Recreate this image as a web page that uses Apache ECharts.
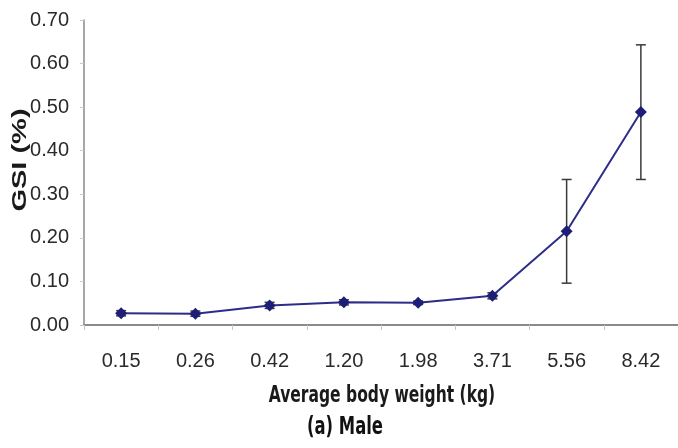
<!DOCTYPE html>
<html>
<head>
<meta charset="utf-8">
<script src="https://cdn.jsdelivr.net/npm/echarts@6/dist/echarts.min.js"></script>
<style>
  html, body { margin: 0; padding: 0; background: #fff; }
  #chart { width: 678px; height: 448px; }
</style>
</head>
<body>
<div id="chart"></div>
<script>
// Average body weight classes (kg)
const weights = ['0.15', '0.26', '0.42', '1.20', '1.98', '3.71', '5.56', '8.42'];
// Mean gonadosomatic index (%) per class
const gsiMean = [0.027, 0.026, 0.045, 0.052, 0.051, 0.067, 0.215, 0.489];
// Lower / upper ends of the error bars
const gsiLow  = [0.021, 0.020, 0.038, 0.046, 0.047, 0.060, 0.096, 0.334];
const gsiHigh = [0.033, 0.032, 0.052, 0.058, 0.055, 0.074, 0.334, 0.643];
// Y-axis ticks
const yTicks = [0, 0.1, 0.2, 0.3, 0.4, 0.5, 0.6, 0.7];

const sans = '"Liberation Sans", Arial, sans-serif';
const condensed = '"DejaVu Sans Condensed", "DejaVu Sans", sans-serif';

const errorData = weights.map((w, i) => [i, gsiLow[i], gsiHigh[i]]);

const chart = echarts.init(document.getElementById('chart'), null, { renderer: 'canvas' });

chart.setOption({
  animation: false,
  backgroundColor: '#ffffff',
  grid: { left: 84, right: 0, top: 20, bottom: 123, containLabel: false },
  xAxis: {
    type: 'category',
    data: weights,
    boundaryGap: true,
    axisLine: { lineStyle: { color: '#8a8a8a', width: 2 } },
    axisTick: { show: true, alignWithLabel: false, length: 5, lineStyle: { color: '#c8c8c8' } },
    axisLabel: { fontFamily: sans, fontSize: 20, color: '#2a2a2a', margin: 26 },
    splitLine: { show: false }
  },
  yAxis: {
    type: 'value',
    min: yTicks[0],
    max: yTicks[yTicks.length - 1],
    interval: 0.1,
    axisLine: { show: true, lineStyle: { color: '#8a8a8a', width: 1.5 } },
    axisTick: { show: true, length: 4, lineStyle: { color: '#c8c8c8' } },
    axisLabel: {
      fontFamily: sans, fontSize: 20, color: '#2a2a2a', margin: 15,
      formatter: v => v.toFixed(2)
    },
    splitLine: { show: false }
  },
  graphic: [
    {
      // y-axis title
      type: 'text',
      x: 20, y: 160,
      rotation: Math.PI / 2,
      scaleX: 1.45,
      style: {
        text: 'GSI (%)',
        font: 'bold 20px ' + sans,
        fill: '#1a1a1a',
        align: 'center',
        verticalAlign: 'middle'
      }
    },
    {
      // x-axis title
      type: 'text',
      x: 382, y: 396,
      scaleX: 0.75,
      style: {
        text: 'Average body weight (kg)',
        font: 'bold 23px ' + condensed,
        fill: '#1a1a1a',
        align: 'center',
        verticalAlign: 'middle'
      }
    },
    {
      // panel caption
      type: 'text',
      x: 345, y: 428,
      scaleX: 0.76,
      style: {
        text: '(a) Male',
        font: 'bold 24px ' + condensed,
        fill: '#111',
        align: 'center',
        verticalAlign: 'middle'
      }
    }
  ],
  series: [
    {
      type: 'custom',
      name: 'error',
      z: 1,
      data: errorData,
      renderItem: function (params, api) {
        const x = api.value(0);
        const lo = api.coord([x, api.value(1)]);
        const hi = api.coord([x, api.value(2)]);
        const half = 5;
        const style = { stroke: '#3a3a3a', lineWidth: 1.5 };
        return {
          type: 'group',
          children: [
            { type: 'line', shape: { x1: lo[0], y1: lo[1], x2: hi[0], y2: hi[1] }, style },
            { type: 'line', shape: { x1: hi[0] - half, y1: hi[1], x2: hi[0] + half, y2: hi[1] }, style },
            { type: 'line', shape: { x1: lo[0] - half, y1: lo[1], x2: lo[0] + half, y2: lo[1] }, style }
          ]
        };
      }
    },
    {
      type: 'line',
      name: 'GSI',
      z: 2,
      data: gsiMean,
      symbol: 'diamond',
      symbolSize: 12,
      lineStyle: { color: '#2d2d88', width: 2 },
      itemStyle: { color: '#1e1e78' }
    }
  ]
});
</script>
</body>
</html>
